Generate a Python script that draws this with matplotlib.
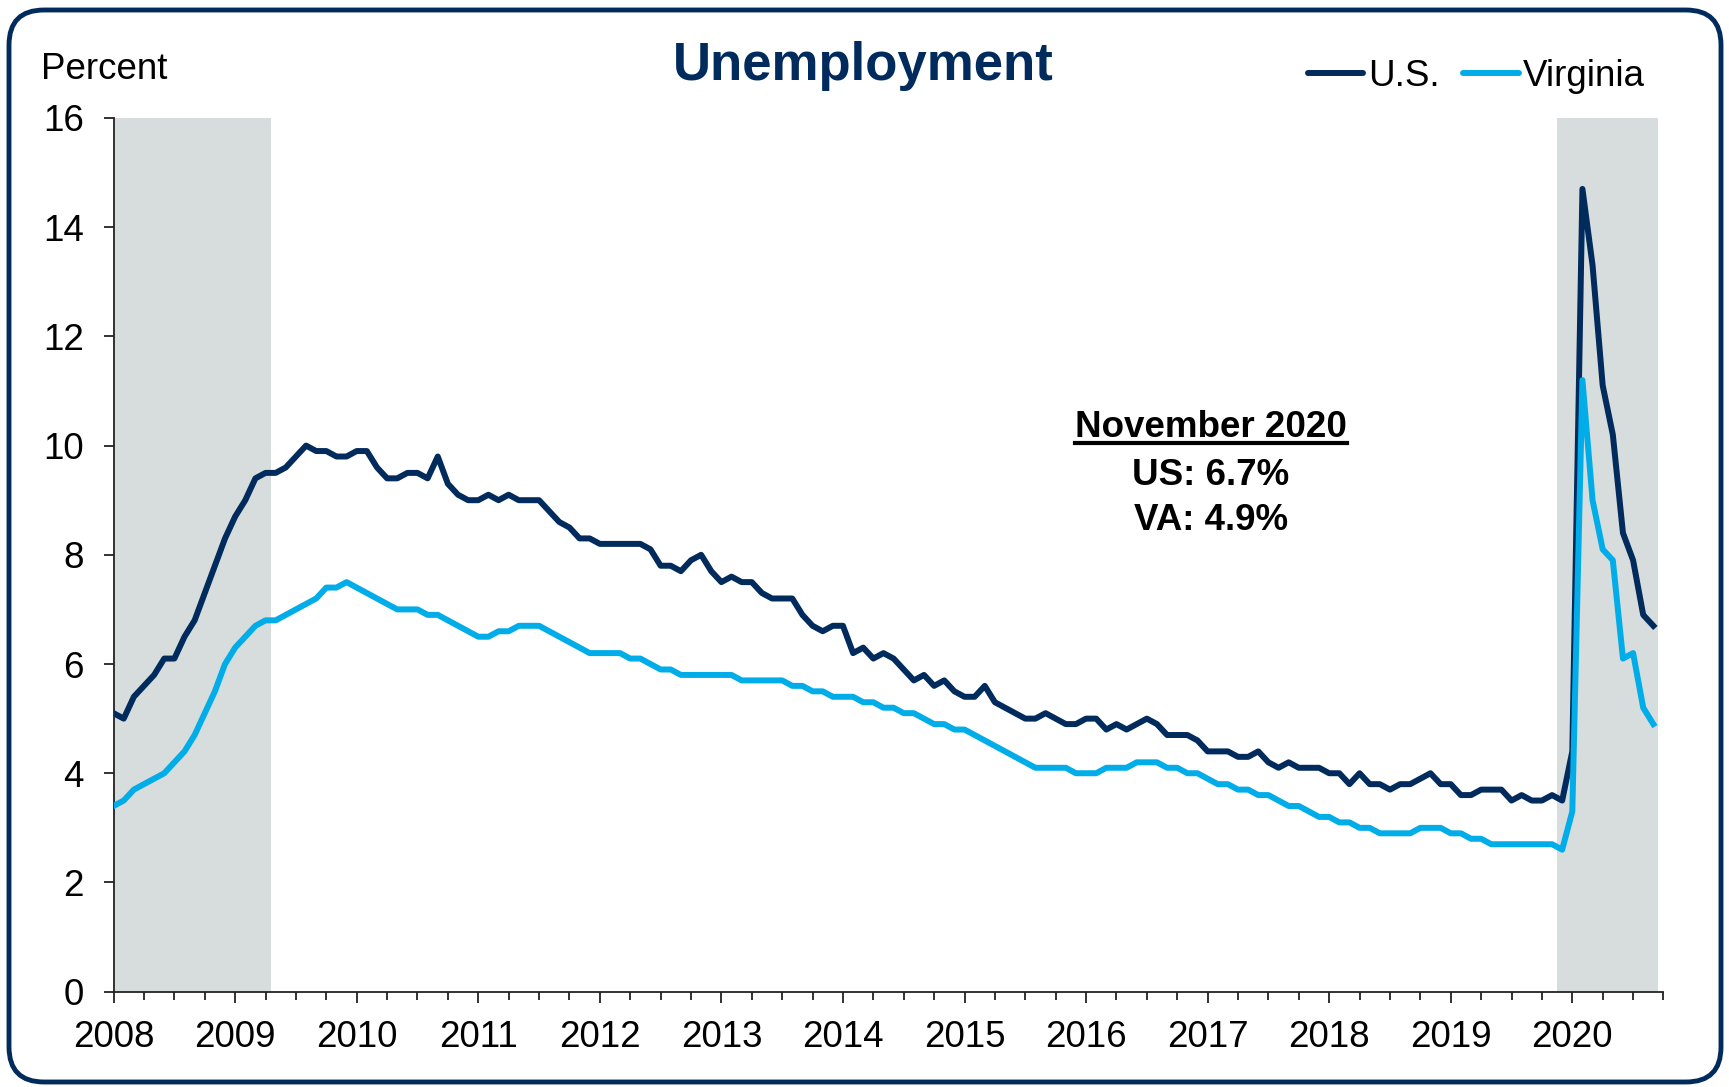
import numpy as np
import matplotlib
matplotlib.use("Agg")
import matplotlib.pyplot as plt
from matplotlib.patches import FancyBboxPatch
from matplotlib.lines import Line2D

plt.rcParams['font.family'] = ['Liberation Sans', 'DejaVu Sans']

# monthly unemployment rate, Mar 2008 .. Nov 2020 (percent)
us = [
    5.1, 5.0, 5.4, 5.6, 5.8, 6.1, 6.1, 6.5, 6.8, 7.3,            # 2008 (Mar-Dec)
    7.8, 8.3, 8.7, 9.0, 9.4, 9.5, 9.5, 9.6, 9.8, 10.0, 9.9, 9.9,  # 2009
    9.8, 9.8, 9.9, 9.9, 9.6, 9.4, 9.4, 9.5, 9.5, 9.4, 9.8, 9.3,   # 2010
    9.1, 9.0, 9.0, 9.1, 9.0, 9.1, 9.0, 9.0, 9.0, 8.8, 8.6, 8.5,   # 2011
    8.3, 8.3, 8.2, 8.2, 8.2, 8.2, 8.2, 8.1, 7.8, 7.8, 7.7, 7.9,   # 2012
    8.0, 7.7, 7.5, 7.6, 7.5, 7.5, 7.3, 7.2, 7.2, 7.2, 6.9, 6.7,   # 2013
    6.6, 6.7, 6.7, 6.2, 6.3, 6.1, 6.2, 6.1, 5.9, 5.7, 5.8, 5.6,   # 2014
    5.7, 5.5, 5.4, 5.4, 5.6, 5.3, 5.2, 5.1, 5.0, 5.0, 5.1, 5.0,   # 2015
    4.9, 4.9, 5.0, 5.0, 4.8, 4.9, 4.8, 4.9, 5.0, 4.9, 4.7, 4.7,   # 2016
    4.7, 4.6, 4.4, 4.4, 4.4, 4.3, 4.3, 4.4, 4.2, 4.1, 4.2, 4.1,   # 2017
    4.1, 4.1, 4.0, 4.0, 3.8, 4.0, 3.8, 3.8, 3.7, 3.8, 3.8, 3.9,   # 2018
    4.0, 3.8, 3.8, 3.6, 3.6, 3.7, 3.7, 3.7, 3.5, 3.6, 3.5, 3.5,   # 2019
    3.6, 3.5, 4.4, 14.7, 13.3, 11.1, 10.2, 8.4, 7.9, 6.9, 6.7,    # 2020 (Jan-Nov)
]
va = [
    3.4, 3.5, 3.7, 3.8, 3.9, 4.0, 4.2, 4.4, 4.7, 5.1,
    5.5, 6.0, 6.3, 6.5, 6.7, 6.8, 6.8, 6.9, 7.0, 7.1, 7.2, 7.4,
    7.4, 7.5, 7.4, 7.3, 7.2, 7.1, 7.0, 7.0, 7.0, 6.9, 6.9, 6.8,
    6.7, 6.6, 6.5, 6.5, 6.6, 6.6, 6.7, 6.7, 6.7, 6.6, 6.5, 6.4,
    6.3, 6.2, 6.2, 6.2, 6.2, 6.1, 6.1, 6.0, 5.9, 5.9, 5.8, 5.8,
    5.8, 5.8, 5.8, 5.8, 5.7, 5.7, 5.7, 5.7, 5.7, 5.6, 5.6, 5.5,
    5.5, 5.4, 5.4, 5.4, 5.3, 5.3, 5.2, 5.2, 5.1, 5.1, 5.0, 4.9,
    4.9, 4.8, 4.8, 4.7, 4.6, 4.5, 4.4, 4.3, 4.2, 4.1, 4.1, 4.1,
    4.1, 4.0, 4.0, 4.0, 4.1, 4.1, 4.1, 4.2, 4.2, 4.2, 4.1, 4.1,
    4.0, 4.0, 3.9, 3.8, 3.8, 3.7, 3.7, 3.6, 3.6, 3.5, 3.4, 3.4,
    3.3, 3.2, 3.2, 3.1, 3.1, 3.0, 3.0, 2.9, 2.9, 2.9, 2.9, 3.0,
    3.0, 3.0, 2.9, 2.9, 2.8, 2.8, 2.7, 2.7, 2.7, 2.7, 2.7, 2.7,
    2.7, 2.6, 3.3, 11.2, 9.0, 8.1, 7.9, 6.1, 6.2, 5.2, 4.9,
]
years = list(range(2008, 2021))
# recessions as (first month index, last month index), index 0 = Mar 2008
recessions = [(0, 15), (143, 152)]

navy = '#002B5C'
sky = '#00ADE9'
shade = '#D7DDDD'

fig = plt.figure(figsize=(17.29, 10.87), dpi=100)
ax = fig.add_axes([0.0657, 0.0877, 0.8964, 0.8038])

x = np.arange(len(us))
for a, b in recessions:
    ax.axvspan(a - 0.5, b + 0.5, color=shade, lw=0, zorder=0)
ax.plot(x, us, color=navy, lw=4.3, solid_joinstyle='round', zorder=3)
ax.plot(x, va, color=sky, lw=4.3, solid_joinstyle='round', zorder=3)

ax.set_xlim(0, 153)
ax.set_ylim(0, 16)
ax.set_yticks(range(0, 17, 2))
ax.set_xticks(range(0, 12 * len(years), 12))
ax.set_xticklabels([str(y) for y in years])
ax.set_xticks(range(0, 154, 3), minor=True)

for s in ['top', 'right']:
    ax.spines[s].set_visible(False)
for s in ['left', 'bottom']:
    ax.spines[s].set_color('#222222')
    ax.spines[s].set_linewidth(1.3)

ax.tick_params(axis='y', direction='out', length=7.5, width=1.3, pad=14,
               labelsize=26.5, colors='#222222', labelcolor='black')
ax.tick_params(axis='x', which='major', direction='out', length=8, width=1.3,
               pad=12.5, labelsize=26.5, colors='#222222', labelcolor='black')
ax.tick_params(axis='x', which='minor', direction='out', length=5.5, width=1.3,
               colors='#222222')

fig.text(0.0240, 0.9273, 'Percent', fontsize=26.5, ha='left', va='baseline')
fig.text(0.4991, 0.9264, 'Unemployment', fontsize=38, fontweight='bold',
         color=navy, ha='center', va='baseline')

handles = [Line2D([], [], color=navy, lw=4.3, solid_capstyle='round'),
           Line2D([], [], color=sky, lw=4.3, solid_capstyle='round')]
fig.legend(handles, ['U.S.', 'Virginia'], loc='center right',
           bbox_to_anchor=(0.9514, 0.9295), ncol=2, frameon=False,
           fontsize=26.5, handlelength=1.5, handletextpad=0.12,
           columnspacing=0.65, borderpad=0, borderaxespad=0)

# November 2020 note
cx = 0.7004
t1 = fig.text(cx, 1 - 437 / 1087, 'November 2020', fontsize=26.5,
              fontweight='bold', ha='center', va='baseline')
fig.text(cx, 1 - 485 / 1087, 'US: 6.7%', fontsize=26.5, fontweight='bold',
         ha='center', va='baseline')
fig.text(cx, 1 - 530 / 1087, 'VA: 4.9%', fontsize=26.5, fontweight='bold',
         ha='center', va='baseline')

fig.canvas.draw()
bb = t1.get_window_extent().transformed(fig.transFigure.inverted())
uy = 1 - 443 / 1087
fig.add_artist(Line2D([bb.x0, bb.x1], [uy, uy], color='black', lw=3,
                      transform=fig.transFigure))

# rounded frame around the whole chart
frame = FancyBboxPatch((0.09, 0.05), 17.12, 10.72,
                       boxstyle='round,pad=0,rounding_size=0.35',
                       transform=fig.dpi_scale_trans, fill=False,
                       ec=navy, lw=3.5, clip_on=False)
fig.add_artist(frame)

fig.savefig('out.png', dpi=100)
